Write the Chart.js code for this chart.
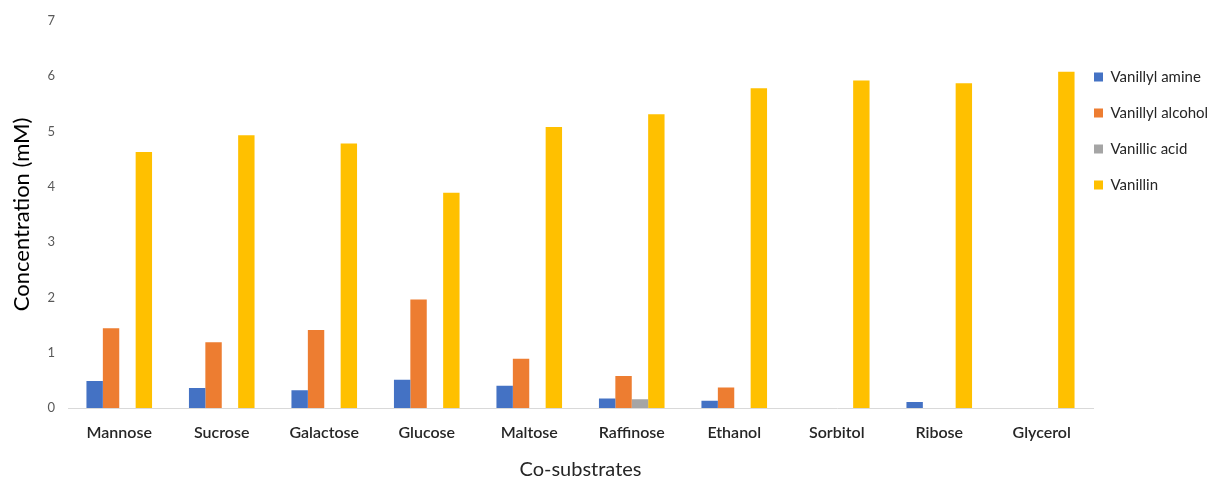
<!DOCTYPE html>
<html>
<head>
<meta charset="utf-8">
<script src="https://cdn.jsdelivr.net/npm/chart.js@4"></script>
<style>
  html, body { margin: 0; padding: 0; background: #ffffff; }
  #wrap { width: 1208px; height: 482px; position: relative; }
</style>
</head>
<body>
<div id="wrap"><canvas id="chart"></canvas></div>
<script>
// Co-substrates tested and the measured product concentrations (mM)
const coSubstrates = ['Mannose', 'Sucrose', 'Galactose', 'Glucose', 'Maltose', 'Raffinose', 'Ethanol', 'Sorbitol', 'Ribose', 'Glycerol'];
const vanillylAmine   = [0.49, 0.36, 0.32, 0.51, 0.40, 0.17, 0.13, 0, 0.11, 0];
const vanillylAlcohol = [1.44, 1.19, 1.41, 1.96, 0.89, 0.58, 0.37, 0, 0, 0];
const vanillicAcid    = [0, 0, 0, 0, 0, 0.16, 0, 0, 0, 0];
const vanillin        = [4.63, 4.93, 4.78, 3.89, 5.08, 5.31, 5.78, 5.92, 5.87, 6.08];
const yTicks = [0, 1, 2, 3, 4, 5, 6, 7];

const FONT = 'Lato, "Open Sans", sans-serif';

function series(label, data, color) {
  return { label, data, backgroundColor: color, borderWidth: 0,
           categoryPercentage: 0.64, barPercentage: 1.0 };
}

// Keep the legend column tight against the plot and near the top
const legendPlacement = {
  id: 'legendPlacement',
  beforeDraw(chart) {
    const lg = chart.legend;
    if (!lg) return;
    const pad = lg.options.labels.padding;
    lg.left = chart.chartArea.right + 1 - pad;
    lg.top = 48.5;
  }
};

new Chart(document.getElementById('chart'), {
  type: 'bar',
  data: {
    labels: coSubstrates,
    datasets: [
      series('Vanillyl amine', vanillylAmine, '#4472C4'),
      series('Vanillyl alcohol', vanillylAlcohol, '#ED7D31'),
      series('Vanillic acid', vanillicAcid, '#A5A5A5'),
      series('Vanillin', vanillin, '#FFC000')
    ]
  },
  plugins: [legendPlacement],
  options: {
    responsive: true,
    maintainAspectRatio: false,
    animation: false,
    layout: { padding: { top: 3, left: 0, right: 0, bottom: 0 } },
    plugins: {
      tooltip: { enabled: false },
      legend: {
        position: 'right',
        align: 'start',
        maxWidth: 115,
        labels: {
          boxWidth: 9, boxHeight: 9, padding: 21,
          color: '#262626',
          font: { size: 15, family: FONT }
        }
      }
    },
    scales: {
      x: {
        grid: { display: false, drawTicks: false },
        border: { display: true, color: '#D9D9D9', width: 1 },
        ticks: { color: '#262626', font: { size: 16, family: FONT, weight: '600' }, padding: 15 },
        title: { display: true, text: 'Co-substrates', color: '#262626',
                 font: { size: 20, family: FONT }, padding: { top: 16, bottom: 0 } },
        afterFit: (axis) => { axis.height = 74; }
      },
      y: {
        min: 0, max: 7,
        afterBuildTicks: (axis) => { axis.ticks = yTicks.map(v => ({ value: v })); },
        grid: { display: false, drawTicks: false },
        border: { display: false },
        ticks: { color: '#595959', font: { size: 13, family: FONT }, padding: 13 },
        title: { display: true, text: 'Concentration (mM)', color: '#000000',
                 font: { size: 22, family: FONT }, padding: { top: 9, bottom: 0 } },
        afterFit: (axis) => { axis.width = 68; }
      }
    }
  }
});
</script>
</body>
</html>
